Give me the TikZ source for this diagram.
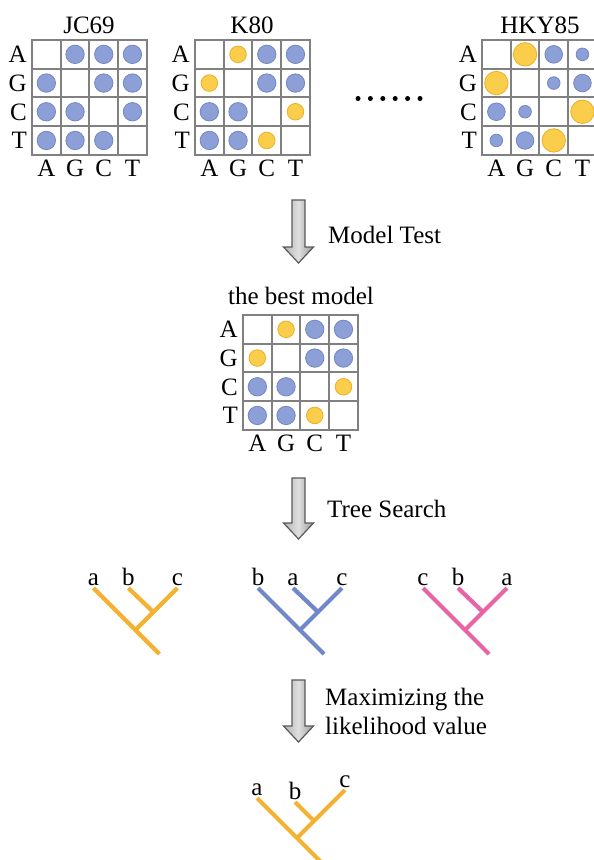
\documentclass[tikz,border=0pt]{standalone}
\usepackage{fontspec}
\setmainfont{Liberation Serif}
\definecolor{dotb}{RGB}{140,160,215}
\definecolor{dotbline}{RGB}{115,135,195}
\definecolor{doty}{RGB}{250,205,75}
\definecolor{dotyline}{RGB}{235,175,40}
\definecolor{treeyel}{RGB}{243,178,50}
\definecolor{treeblue}{RGB}{112,136,200}
\definecolor{treepink}{RGB}{232,100,165}
\definecolor{gridgray}{RGB}{128,128,128}
\tikzset{
  lab/.style={font=\fontsize{25}{29}\selectfont, inner sep=0pt},
  gridline/.style={draw=gridgray, line width=2pt, line cap=rect},
  treeline/.style={line width=4.2pt},
  bigarrow/.style={draw=gray!70!black, line width=1.2pt, left color=gray!60, right color=gray!80, middle color=gray!25},
}
\newcommand\modelgrid[4]{% name, left, top, dots
  \begin{scope}[shift={(#2,#3)}]
    \foreach \i in {0,...,4}{
      \draw[gridline] (\i*28.7,0) -- (\i*28.7,114.8);
      \draw[gridline] (0,\i*28.7) -- (114.8,\i*28.7);
    }
    \foreach \r/\c/\rad/\f in {#4}
      \draw[fill=dot\f, draw=dot\f line, line width=0.8pt] (\c*28.7+14.35,\r*28.7+14.35) circle[radius=\rad pt];
    \foreach \l [count=\k from 0] in {A,G,C,T}{
      \node[lab, anchor=base east] (#1-r\l) at (-5,\k*28.7+22.65) {\l};
      \node[lab, anchor=base] (#1-c\l) at (\k*28.7+14.35,136.8) {\l};
    }
  \end{scope}}
\newcommand\grayarrow[3]{% x, top, tip
  \path[bigarrow] (#1-6.5,#2) -- (#1+6.5,#2) -- (#1+6.5,#3-16) -- (#1+15,#3-16)
    -- (#1,#3) -- (#1-15,#3-16) -- (#1-6.5,#3-16) -- cycle;}
\newcommand\smalltree[6]{% name, x0, color, l1, l2, l3
  \coordinate (#1-1) at (#2,588);
  \coordinate (#1-2) at (#2+35,588);
  \coordinate (#1-3) at (#2+84,588);
  \coordinate (#1-in) at (#2+59.5,611.5);
  \coordinate (#1-lo) at (#2+42,630);
  \coordinate (#1-root) at (#2+66,654);
  \draw[treeline,#3] (#1-1) -- (#1-root) (#1-3) -- (#1-lo) (#1-2) -- (#1-in);
  \node[lab, anchor=base] (#1-l1) at (#2,585) {#4};
  \node[lab, anchor=base] (#1-l2) at (#2+35,585) {#5};
  \node[lab, anchor=base] (#1-l3) at (#2+84,585) {#6};}
\begin{document}
\begin{tikzpicture}[x=1pt,y=-1pt]
  \useasboundingbox (0,0) rectangle (594,860);
  \fill[white] (0,0) rectangle (594,860);
  % top row of models
  \node[lab, anchor=base] (jc69) at (89,33) {JC69};
  \node[lab, anchor=base] (k80) at (252,33) {K80};
  \node[lab, anchor=base] (hky85) at (540,33) {HKY85};
  \modelgrid{jc}{32}{40}{0/1/9.2/b,0/2/9.2/b,0/3/9.2/b,1/0/9.2/b,1/2/9.2/b,1/3/9.2/b,2/0/9.2/b,2/1/9.2/b,2/3/9.2/b,3/0/9.2/b,3/1/9.2/b,3/2/9.2/b}
  \modelgrid{k}{195}{40}{0/1/8.3/y,0/2/9.2/b,0/3/9.2/b,1/0/8.3/y,1/2/9.2/b,1/3/9.2/b,2/0/9.2/b,2/1/9.2/b,2/3/8.3/y,3/0/9.2/b,3/1/9.2/b,3/2/8.3/y}
  \modelgrid{hky}{482}{40}{0/1/11.7/y,0/2/8.8/b,0/3/6.3/b,1/0/11.7/y,1/2/6.3/b,1/3/8.8/b,2/0/8.8/b,2/1/6.3/b,2/3/11.7/y,3/0/6.3/b,3/1/8.8/b,3/2/11.7/y}
  \foreach \i in {0,...,5} \fill (358+\i*12.4,98.5) circle[radius=2.5pt];
  % model test
  \grayarrow{298.5}{200}{263}
  \node[lab, anchor=base west] (modeltest) at (328,243) {Model Test};
  \node[lab, anchor=base] (bestmodel) at (301,304) {the best model};
  \modelgrid{best}{243}{315}{0/1/8.3/y,0/2/9.2/b,0/3/9.2/b,1/0/8.3/y,1/2/9.2/b,1/3/9.2/b,2/0/9.2/b,2/1/9.2/b,2/3/8.3/y,3/0/9.2/b,3/1/9.2/b,3/2/8.3/y}
  % tree search
  \grayarrow{298.5}{478}{539}
  \node[lab, anchor=base west] (treesearch) at (327,517) {Tree Search};
  \smalltree{ta}{93.3}{treeyel}{a}{b}{c}
  \smalltree{tb}{258}{treeblue}{b}{a}{c}
  \smalltree{tc}{423}{treepink}{c}{b}{a}
  % maximizing
  \grayarrow{298.5}{680}{742}
  \node[lab, anchor=base west] (maxlik1) at (325,705) {Maximizing the};
  \node[lab, anchor=base west] (maxlik2) at (325,734) {likelihood value};
  % final tree
  \coordinate (fa) at (257,798);
  \coordinate (fb) at (295,802);
  \coordinate (fc) at (345,790);
  \coordinate (fin) at (314,821);
  \coordinate (flo) at (297,838);
  \coordinate (froot) at (321,862);
  \draw[treeline,treeyel] (fa) -- (froot) (fc) -- (flo) (fb) -- (fin);
  \node[lab, anchor=base] (fla) at (257,795) {a};
  \node[lab, anchor=base] (flb) at (295,799) {b};
  \node[lab, anchor=base] (flc) at (345,787) {c};
\end{tikzpicture}
\end{document}
